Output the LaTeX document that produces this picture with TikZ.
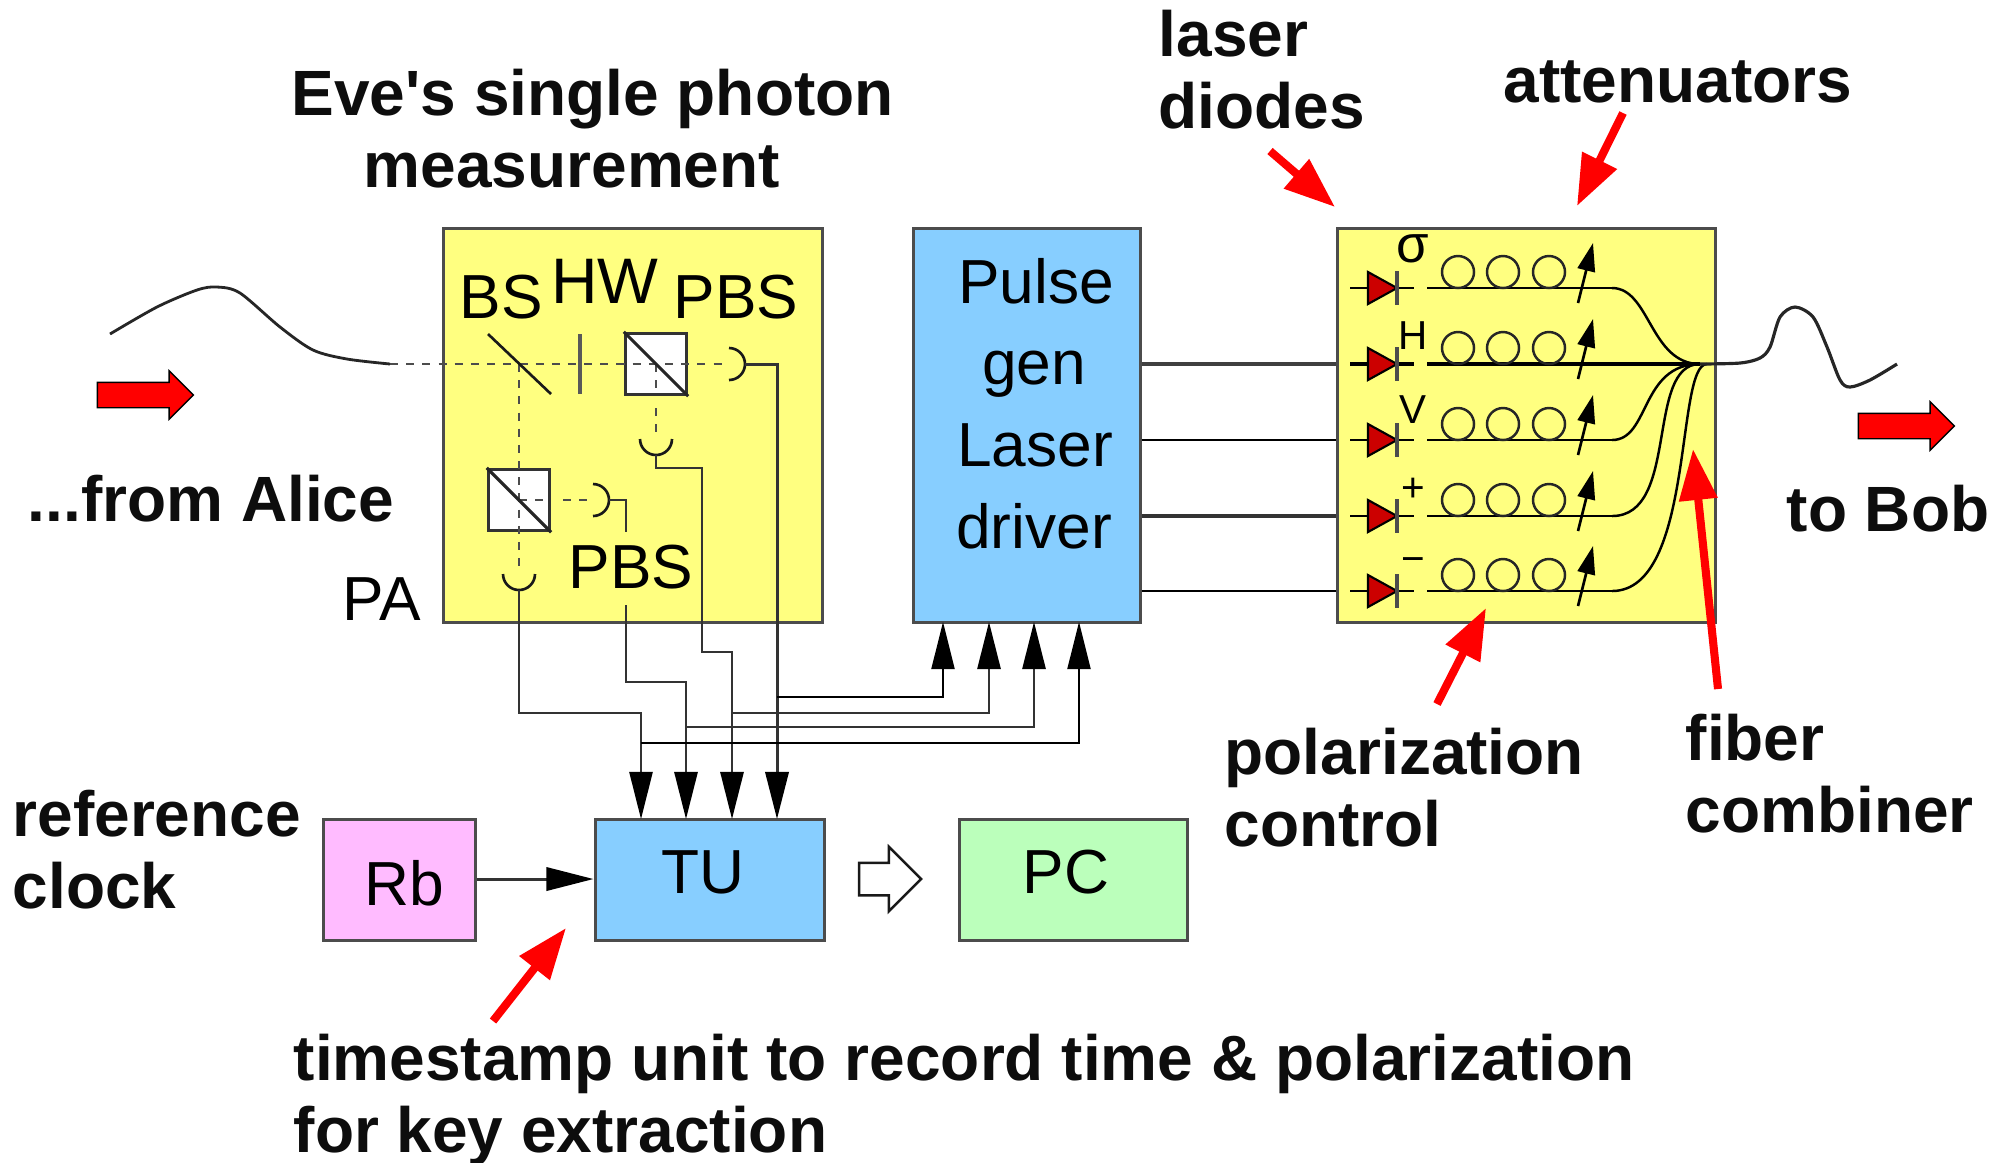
\documentclass[tikz,border=0pt]{standalone}
\usepackage{fontspec}
\setmainfont{Liberation Sans}
\usetikzlibrary{arrows.meta,shapes.arrows}
\definecolor{boxyellow}{RGB}{255,255,128}
\definecolor{boxblue}{RGB}{135,206,255}
\definecolor{boxpink}{RGB}{255,187,255}
\definecolor{boxgreen}{RGB}{187,255,187}
\definecolor{diodered}{RGB}{204,0,0}
\tikzset{
	panel/.style={draw=black!70, line width=0.9pt, inner sep=0, anchor=north west},
	cube/.style={draw=black!80, fill=white, line width=0.8pt, inner sep=0, minimum size=17.5pt},
	wire/.style={draw=black!80, line width=0.65pt},
	thinwire/.style={draw=black, line width=0.45pt},
	beam/.style={draw=black!70, line width=0.65pt, dash pattern=on 2.3pt off 2.3pt},
	tipwire/.style={wire, -{Triangle[length=13.4pt, width=6.6pt, color=black]}},
	pointer/.style={draw=red, line width=2.3pt, -{Triangle[length=14.5pt, width=10.5pt]}},
	blockarrow/.style={single arrow, single arrow tip angle=90, inner xsep=0, anchor=center},
	inlabel/.style={font=\fontsize{17.7pt}{20pt}\selectfont, inner sep=0, anchor=base},
	smalllabel/.style={font=\fontsize{11.5pt}{13pt}\selectfont, inner sep=0},
	note/.style={font=\fontsize{18.2pt}{20.45pt}\selectfont\bfseries, color=black!95, inner sep=0, anchor=base west, align=left}
}
% one laser line: y, width of the fibre
\def\laserrow(#1:#2){
	\draw[line width=#2] (1350, #1) -- (1414, #1);
	\draw[fill=diodered, line width=0.6pt] (1368, #1-16) -- (1397, #1) -- (1368, #1+16) -- cycle;
	\draw[line width=1pt, color=black!70] (1397, #1-17) -- (1397, #1+17);
	\draw[line width=#2] (1427, #1) -- (1612, #1);
	\draw[line width=0.7pt, color=black!85] (1458, #1-16) circle (16);
	\draw[line width=0.7pt, color=black!85] (1503, #1-16) circle (16);
	\draw[line width=0.7pt, color=black!85] (1549, #1-16) circle (16);
	\draw[line width=0.75pt, -{Triangle[length=8pt, width=5pt]}] (1578, #1+15) -- (1593, #1-45);
}
\def\detarc(#1)(#2:#3){\draw[line width=0.75pt, color=black!90] (#1) ++(#2:16) arc (#2:#3:16);}

\begin{document}
\begin{tikzpicture}[x=0.01cm, y=-0.01cm]
	\useasboundingbox (0, 0) rectangle (2007, 1162);
	%%%%% boxes %%%%%
	\node[panel, fill=boxyellow, minimum width=379*0.2845pt, minimum height=394*0.2845pt] (measure) at (441.5, 227) {};
	\node[panel, fill=boxblue, minimum width=227*0.2845pt, minimum height=394*0.2845pt] (driver) at (911.5, 227) {};
	\node[panel, fill=boxyellow, minimum width=378*0.2845pt, minimum height=394*0.2845pt] (source) at (1335.5, 227) {};
	\node[panel, fill=boxpink, minimum width=152*0.2845pt, minimum height=121*0.2845pt] (rb) at (321.5, 818) {};
	\node[panel, fill=boxblue, minimum width=229*0.2845pt, minimum height=121*0.2845pt] (tu) at (593.5, 818) {};
	\node[panel, fill=boxgreen, minimum width=228*0.2845pt, minimum height=121*0.2845pt] (pc) at (957.5, 818) {};
	
	\node[inlabel] (rblabel) at (404, 905) {Rb};
	\node[inlabel] (tulabel) at (703, 893) {TU};
	\node[inlabel] (pclabel) at (1066, 893) {PC};
	\node[inlabel] (pulselabel) at (1036, 303) {Pulse};
	\node[inlabel] (genlabel) at (1034, 384) {gen};
	\node[inlabel] (laserlabel) at (1035, 466) {Laser};
	\node[inlabel] (driverlabel) at (1034, 548) {driver};
	\node[inlabel] (bslabel) at (501, 318) {BS};
	\node[inlabel, font=\fontsize{18.3pt}{20pt}\selectfont] (hwlabel) at (605, 303) {HW};
	\node[inlabel] (pbsalabel) at (736, 318) {PBS};
	\node[inlabel] (pbsblabel) at (631, 588) {PBS};
	\node[inlabel] (palabel) at (382, 620) {PA};
	
	%%%%% optics %%%%%
	\coordinate (fibrein) at (390, 364);
	\coordinate (deta) at (729, 364);
	\coordinate (detb) at (656, 439);
	\coordinate (detc) at (593, 500);
	\coordinate (detd) at (519, 574);
	\node[cube] (pbsa) at (656, 364) {};
	\node[cube] (pbsb) at (519, 500) {};
	\draw[beam] (fibrein) -- (deta);
	\draw[beam, line width=0.5pt] (519, 364) -- (detd);
	\draw[beam, line width=0.5pt] (pbsa.center) -- (pbsa.south);
	\draw[beam, line width=0.5pt] (656, 408) -- (656, 439);
	\draw[beam, line width=0.5pt] (pbsb.center) -- (pbsb.east);
	\draw[beam, line width=0.5pt] (563, 500) -- (detc);
	\draw[line width=0.9pt, color=black!85] (pbsa.north west) -- (pbsa.south east);
	\draw[line width=0.9pt, color=black!85] (pbsb.north west) -- (pbsb.south east);
	\draw[line width=0.75pt, color=black!90] (488, 334) -- (551, 394);
	\draw[line width=1pt, color=black!65] (580, 334) -- (580, 394);
	\detarc(deta)(-90:90)
	\detarc(detb)(0:180)
	\detarc(detc)(-90:90)
	\detarc(detd)(0:180)
	
	%%%%% wires %%%%%
	\coordinate (ina) at (641, 819);
	\coordinate (inb) at (686, 819);
	\coordinate (inc) at (732, 819);
	\coordinate (ind) at (777, 819);
	\coordinate (outa) at (943, 622);
	\coordinate (outb) at (989, 622);
	\coordinate (outc) at (1034, 622);
	\coordinate (outd) at (1079, 622);
	\draw[tipwire, line width=0.55pt] (519, 590) -- (519, 713) -- (641, 713) -- (ina);
	\draw[tipwire] (626, 605) -- (626, 682) -- (686, 682) -- (inb);
	\draw[tipwire] (656, 455) -- (656, 468) -- (702, 468) -- (702, 652) -- (732, 652) -- (inc);
	\draw[tipwire, line width=0.85pt] (745, 364) -- (777, 364) -- (ind);
	\draw[wire] (609, 500) -- (626, 500) -- (626, 532);
	\draw[tipwire, thinwire] (777, 697) -- (943, 697) -- (outa);
	\draw[tipwire] (732, 713) -- (989, 713) -- (outb);
	\draw[tipwire] (686, 727) -- (1034, 727) -- (outc);
	\draw[tipwire, thinwire] (641, 743) -- (1079, 743) -- (outd);
	\coordinate (clockline) at (0, 879);
	\draw[tipwire, line width=0.85pt] (rb.east |- clockline) -- (tu.west |- clockline);
	\node[blockarrow, draw=black!90, fill=white, line width=0.7pt, inner ysep=15*0.2845pt, minimum height=62*0.2845pt, minimum width=62*0.2845pt, single arrow head extend=16*0.2845pt] (nextarrow) at (882, 879) {};
	
	%%%%% lasers and fibre %%%%%
	\coordinate (rowh) at (0, 364);
	\coordinate (rowv) at (0, 440);
	\coordinate (rowp) at (0, 516);
	\coordinate (rowm) at (0, 591);
	\draw[line width=1pt, color=black!75] (driver.east |- rowh) -- (source.west |- rowh);
	\draw[line width=0.6pt] (driver.east |- rowv) -- (source.west |- rowv);
	\draw[line width=0.9pt, color=black!80] (driver.east |- rowp) -- (source.west |- rowp);
	\draw[line width=0.6pt] (driver.east |- rowm) -- (source.west |- rowm);
	\laserrow(288:0.6pt)
	\laserrow(364:0.9pt)
	\laserrow(440:0.6pt)
	\laserrow(516:0.8pt)
	\laserrow(591:0.6pt)
	\coordinate (merge) at (1700, 364);
	\draw[line width=0.7pt] (1612, 288) .. controls (1650, 288) and (1650, 364) .. (merge);
	\draw[line width=0.9pt] (1612, 364) -- (merge);
	\draw[line width=0.7pt] (1612, 440) .. controls (1650, 440) and (1640, 364) .. (merge);
	\draw[line width=0.7pt] (1612, 516) .. controls (1680, 516) and (1645, 364) .. (merge);
	\draw[line width=0.7pt] (1612, 591) .. controls (1695, 591) and (1675, 364) .. (1707, 364);
	\node[smalllabel, font=\fontsize{15pt}{15pt}\selectfont] (sigmalabel) at (1413, 249) {σ};
	\node[smalllabel, anchor=base] (hlabel) at (1413, 349) {H};
	\node[smalllabel, anchor=base] (vlabel) at (1413, 423) {V};
	\node[smalllabel] (pluslabel) at (1413, 490) {+};
	\node[smalllabel] (minuslabel) at (1413, 565) {−};
	
	%%%%% fibre ends %%%%%
	\draw[line width=0.8pt, color=black!85] plot[smooth] coordinates {(110, 334) (157, 307) (197, 290) (217, 287) (240, 293) (280, 327) (313, 350) (347, 359) (390, 364)};
	\draw[line width=0.9pt, color=black!85] plot[smooth] coordinates {(1700, 364) (1740, 363) (1760, 358) (1770, 347) (1780, 317) (1795, 307) (1813, 317) (1827, 347) (1840, 380) (1850, 387) (1870, 380) (1897, 364)};
	\node[blockarrow, draw=black, fill=red, line width=0.4pt, inner ysep=12*0.2845pt, minimum height=96*0.2845pt, minimum width=47*0.2845pt, single arrow head extend=11.5*0.2845pt] (aliceflow) at (139, 395) {};
	\node[blockarrow, draw=black, fill=red, line width=0.4pt, inner ysep=12*0.2845pt, minimum height=96*0.2845pt, minimum width=47*0.2845pt, single arrow head extend=11.5*0.2845pt] (bobflow) at (1900, 426) {};
	
	%%%%% notes %%%%%
	\node[note, anchor=north west] (evenote) at (291, 68) {Eve\textquotesingle s single photon\\\hspace*{20.5pt}measurement};
	\node[note, anchor=north west] (diodenote) at (1158, 9) {laser\\diodes};
	\node[note] (attnote) at (1503, 102) {attenuators};
	\node[note] (alicenote) at (27, 521) {...from Alice};
	\node[note] (bobnote) at (1786, 531) {to Bob};
	\node[note, anchor=north west] (polnote) at (1224, 727) {polarization\\control};
	\node[note, anchor=north west] (fibernote) at (1685, 713) {fiber\\combiner};
	\node[note, anchor=north west] (clocknote) at (12, 789) {reference\\clock};
	\node[note, anchor=north west] (tunote) at (293, 1033) {timestamp unit to record time \& polarization\\for key extraction};
	
	\coordinate (diodetail) at (1270, 151);
	\coordinate (diodetip) at (1335, 207);
	\coordinate (atttail) at (1623, 113);
	\coordinate (atttip) at (1577, 206);
	\coordinate (poltail) at (1437, 704);
	\coordinate (poltip) at (1486, 608);
	\coordinate (fibertail) at (1718, 689);
	\coordinate (fibertip) at (1693, 449);
	\coordinate (tutail) at (493, 1021);
	\coordinate (tutip) at (566, 928);
	\draw[pointer] (diodetail) -- (diodetip);
	\draw[pointer] (atttail) -- (atttip);
	\draw[pointer] (poltail) -- (poltip);
	\draw[pointer] (fibertail) -- (fibertip);
	\draw[pointer] (tutail) -- (tutip);
\end{tikzpicture}
\end{document}
